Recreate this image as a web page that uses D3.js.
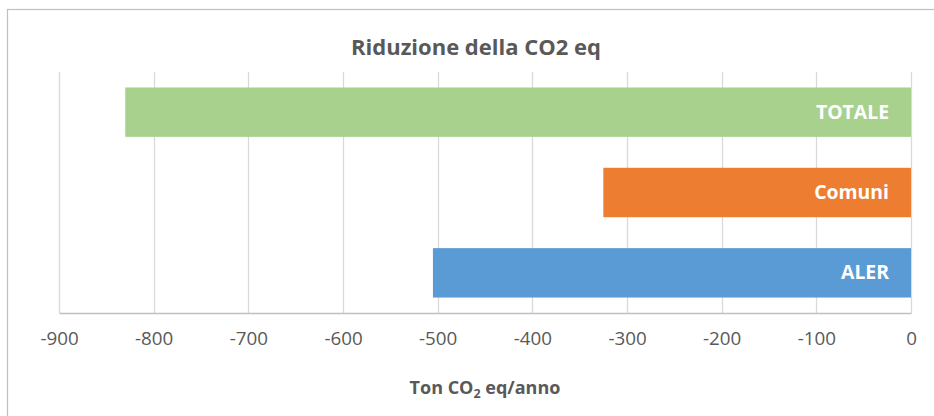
<!DOCTYPE html>
<html>
<head>
<meta charset="utf-8">
<script src="https://cdn.jsdelivr.net/npm/d3@7"></script>
<style>
  html, body { margin: 0; padding: 0; background: #fff; }
  svg { display: block; }
</style>
</head>
<body>
<div id="chart"></div>
<script>
const categories = ["TOTALE", "Comuni", "ALER"];
const values = [-830, -325, -505];
const colors = ["#A9D18E", "#ED7D31", "#5B9BD5"];
const tickValues = [-900, -800, -700, -600, -500, -400, -300, -200, -100, 0];
const titleText = "Riduzione della CO2 eq";

const W = 934, H = 416;
const plot = { left: 59, right: 911, top: 72, bottom: 313 };

const svg = d3.select("#chart").append("svg")
  .attr("width", W).attr("height", H);

// outer chart frame
svg.append("rect")
  .attr("x", 7.5).attr("y", 9.5)
  .attr("width", 960).attr("height", 440)
  .attr("fill", "#fff")
  .attr("stroke", "#bfbfbf").attr("stroke-width", 1.2);

const x = d3.scaleLinear().domain([-900, 0]).range([plot.left, plot.right]);
const y = d3.scaleBand().domain(categories)
  .range([plot.top, plot.bottom])
  .paddingInner(0.385).paddingOuter(0.1925);

// gridlines
svg.append("g").selectAll("line").data(tickValues).join("line")
  .attr("x1", d => Math.round(x(d)) + 0.5).attr("x2", d => Math.round(x(d)) + 0.5)
  .attr("y1", plot.top).attr("y2", plot.bottom)
  .attr("stroke", "#d9d9d9").attr("stroke-width", 1.3);

// bars
svg.append("g").selectAll("rect").data(categories).join("rect")
  .attr("x", (d, i) => x(values[i]))
  .attr("y", d => y(d))
  .attr("width", (d, i) => x(0) - x(values[i]))
  .attr("height", y.bandwidth())
  .attr("fill", (d, i) => colors[i]);

// bar labels
svg.append("g").selectAll("text").data(categories).join("text")
  .attr("x", x(0) - 22)
  .attr("y", d => y(d) + y.bandwidth() / 2)
  .attr("dy", "0.34em")
  .attr("text-anchor", "end")
  .attr("fill", "#fff")
  .attr("font-family", "'Open Sans', sans-serif")
  .attr("font-weight", "bold")
  .attr("font-size", "19.4px")
  .text(d => d);

// x axis
const axis = d3.axisBottom(x).tickValues(tickValues).tickSize(0).tickPadding(19)
  .tickFormat(d3.format("d"));
const gx = svg.append("g").attr("transform", `translate(0,${plot.bottom})`).call(axis);
gx.select(".domain").attr("stroke", "#bfbfbf").attr("stroke-width", 1.4);
gx.selectAll("text")
  .attr("fill", "#595959")
  .attr("font-family", "'Open Sans', sans-serif")
  .attr("font-size", "18.8px")
  .text(d => d < 0 ? "-" + Math.abs(d) : String(d));

// title
svg.append("text")
  .attr("x", 476).attr("y", 55)
  .attr("text-anchor", "middle")
  .attr("fill", "#595959")
  .attr("font-family", "'Open Sans', sans-serif")
  .attr("font-weight", "bold")
  .attr("font-size", "22px")
  .text(titleText);

// axis title with subscript
const at = svg.append("text")
  .attr("x", (plot.left + plot.right) / 2).attr("y", 394)
  .attr("text-anchor", "middle")
  .attr("fill", "#595959")
  .attr("font-family", "'Open Sans', sans-serif")
  .attr("font-weight", "bold")
  .attr("font-size", "18px");
at.append("tspan").text("Ton CO");
at.append("tspan").attr("font-size", "12.5px").attr("dy", 4).text("2");
at.append("tspan").attr("dy", -4).text(" eq/anno");
</script>
</body>
</html>
